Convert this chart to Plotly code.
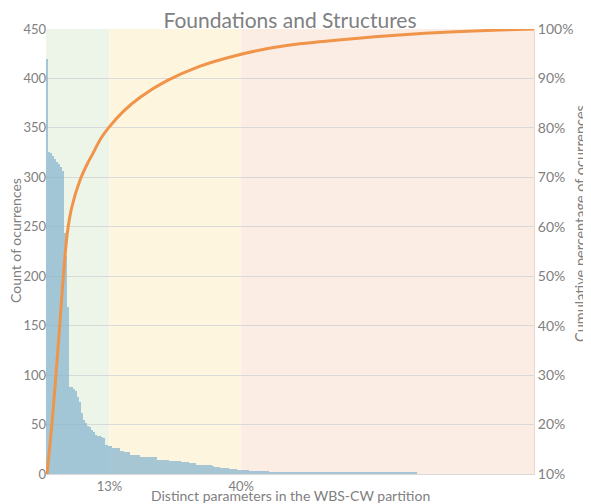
import plotly.graph_objects as go

# occurrences per distinct parameter, sorted descending
N_PARAMS = 250
counts = [
    420, 326, 325, 322, 319, 316, 313, 310, 306, 244,
    220, 169, 88, 88, 86, 84, 78, 73, 62, 55,
    52, 49, 48, 45, 42, 39, 38, 38, 37, 36,
    29, 29, 28, 28, 26, 26, 26, 26, 23, 23,
    22, 22, 22, 19, 19, 19, 19, 19, 17, 17,
    17, 17, 17, 17, 17, 17, 17, 14, 14, 14,
    14, 14, 14, 13, 13, 13, 13, 13, 13, 12,
    12, 12, 12, 11, 11, 11, 11, 9, 9, 9,
    9, 9, 9, 9, 9, 8, 7, 7, 7, 6,
    6, 6, 6, 6, 5, 5, 5, 5, 4, 4,
    4, 4, 4, 4, 3, 3, 3, 3, 3, 3,
    3, 3, 3, 3, 2, 2, 2, 2, 2, 2,
    2, 2, 2, 2, 2, 2, 2, 2, 2, 2,
    2, 2, 2, 2, 2, 2, 2, 2, 2, 2,
    2, 2, 2, 2, 2, 2, 2, 2, 2, 2,
    2, 2, 2, 2, 2, 2, 2, 2, 2, 2,
    2, 2, 2, 2, 2, 2, 2, 2, 2, 2,
    2, 2, 2, 2, 2, 2, 2, 2, 2, 2,
    2, 2, 2, 2, 2, 2, 2, 2, 2, 2,
]

# cumulative percentage curve (share of parameters -> share of occurrences)
cum_share_params = [0.002, 0.012, 0.022, 0.031, 0.038, 0.044, 0.053, 0.070, 0.085,
                    0.097, 0.112, 0.128, 0.158, 0.193, 0.247, 0.316, 0.384, 0.452,
                    0.520, 0.623, 0.725, 0.828, 0.930, 1.0]
cum_pct = [0.10, 0.20, 0.32, 0.44, 0.53, 0.59, 0.64, 0.695, 0.728,
           0.75, 0.778, 0.80, 0.833, 0.862, 0.895, 0.925, 0.945, 0.96,
           0.97, 0.98, 0.988, 0.994, 0.998, 1.0]

zone_edges = [0.0, 0.13, 0.40, 1.0]
zone_colors = ["#EDF5E8", "#FEF5DF", "#FCEDE4"]
zone_ticks = ["13%", "40%"]

GREY = "#808080"
FONT = "Lato, 'Open Sans', sans-serif"

bar_x = [(i + 0.5) / N_PARAMS for i in range(len(counts))]

fig = go.Figure()
fig.add_trace(go.Bar(
    x=bar_x, y=counts, width=1.0 / N_PARAMS,
    marker=dict(color="rgba(130,178,205,0.7)", line=dict(width=0)),
    showlegend=False,
))
fig.add_trace(go.Scatter(
    x=cum_share_params, y=cum_pct, yaxis="y2", mode="lines",
    line=dict(color="#F0944A", width=3, shape="spline", smoothing=0.8),
    showlegend=False,
))

for x0, x1, c in zip(zone_edges[:-1], zone_edges[1:], zone_colors):
    fig.add_shape(type="rect", xref="x", yref="paper", x0=x0, x1=x1, y0=0, y1=1,
                  fillcolor=c, line_width=0, layer="below")

# axis titles as annotations so the plot area keeps its fixed margins
fig.add_annotation(text="Distinct parameters in the WBS-CW partition",
                   xref="paper", yref="paper", x=0.5, y=-0.0483,
                   xanchor="center", yanchor="middle", showarrow=False,
                   font=dict(size=14, color=GREY))
fig.add_annotation(text="Count of ocurrences", textangle=-90,
                   xref="paper", yref="paper", x=-0.0615, y=0.526,
                   xanchor="center", yanchor="middle", showarrow=False,
                   font=dict(size=14, color=GREY))
fig.add_annotation(text="Cumulative percentage of ocurrences", textangle=-90,
                   xref="paper", yref="paper", x=1.094, y=0.564,
                   xanchor="center", yanchor="middle", showarrow=False,
                   font=dict(size=14.5, color=GREY))

# the page adds an 8px body margin, so the figure is 8px smaller each way
fig.update_layout(
    width=583, height=496,
    margin=dict(l=38, r=57, t=21, b=30, autoexpand=False),
    paper_bgcolor="white", plot_bgcolor="white",
    bargap=0,
    font=dict(family=FONT, color=GREY, size=14),
    title=dict(text="Foundations and Structures", x=0.5, xref="paper",
               y=1 - 13 / 496, yref="container", yanchor="middle",
               font=dict(size=21, color=GREY)),
    xaxis=dict(
        range=[0, 1], tickvals=zone_edges[1:3], ticktext=zone_ticks,
        showgrid=False, zeroline=False, showline=True, linecolor="#D9D9D9",
        ticks="", automargin=False, tickfont=dict(size=13),
    ),
    yaxis=dict(
        range=[0, 450], dtick=50, showgrid=True, gridcolor="#D9D9D9",
        zeroline=False, ticks="", showline=False, automargin=False,
        ticklabelstandoff=-1, tickfont=dict(size=13),
    ),
    yaxis2=dict(
        range=[0.1, 1.0], tickvals=[0.1, 0.2, 0.3, 0.4, 0.5, 0.6, 0.7, 0.8, 0.9, 1.0],
        tickformat=".0%", overlaying="y", side="right", automargin=False,
        showgrid=False, zeroline=False, showline=True, linecolor="#E8D8D0",
    ),
)

fig.write_html("out.html")
